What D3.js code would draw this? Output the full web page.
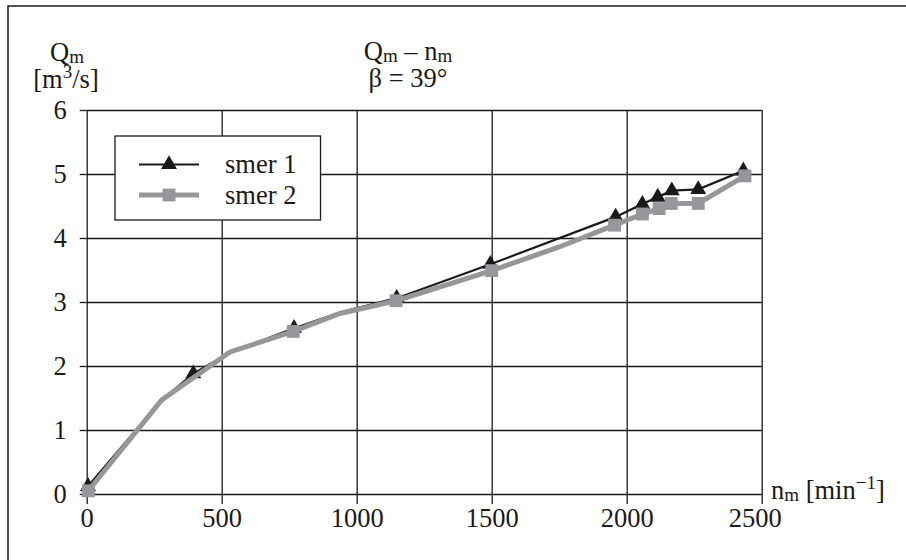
<!DOCTYPE html>
<html>
<head>
<meta charset="utf-8">
<script src="https://cdn.jsdelivr.net/npm/d3@7/dist/d3.min.js"></script>
<style>
  body { margin: 0; background: #fff; }
  text { font-family: "Liberation Serif", "Times New Roman", serif; fill: #1a1a1a; }
</style>
</head>
<body>
<div id="container"></div>
<script>
/* CONSTANTS */
const width = 906;
const height = 560;
const plot = { left: 86.7, right: 761.7, top: 110, bottom: 494 };
const fontSize = 26.5;
const subSize = 19;

/* DATA */
// smer 1 (triangles); points with mark 0 only bend the line
const nm1 = [5, 278, 395, 531, 768, 940, 1148, 1495, 1959, 2058, 2115, 2167, 2265, 2432];
const qm1 = [0.12, 1.47, 1.88, 2.21, 2.59, 2.84, 3.06, 3.59, 4.33, 4.53, 4.64, 4.74, 4.76, 5.05];
const mark1 = [1, 0, 1, 0, 1, 0, 1, 1, 1, 1, 1, 1, 1, 1];

// smer 2 (squares)
const nm2 = [6, 278, 531, 765, 938, 1146, 1500, 1750, 1955, 2058, 2120, 2165, 2265, 2438];
const qm2 = [0.05, 1.47, 2.22, 2.54, 2.82, 3.02, 3.49, 3.86, 4.20, 4.375, 4.46, 4.54, 4.54, 4.97];
const mark2 = [1, 0, 0, 1, 0, 1, 1, 0, 1, 1, 1, 1, 1, 1];

const xTicks = [0, 500, 1000, 1500, 2000, 2500];
const yTicks = [0, 1, 2, 3, 4, 5, 6];
const seriesNames = ["smer 1", "smer 2"];

const s1 = nm1.map((n, i) => ({ n, q: qm1[i], m: mark1[i] }));
const s2 = nm2.map((n, i) => ({ n, q: qm2[i], m: mark2[i] }));

/* SVG */
const svg = d3.select("#container").append("svg")
  .attr("width", width)
  .attr("height", height);

// outer frame (top and left edges)
svg.append("path")
  .attr("d", `M8,${height} L8,6 L${width},6`)
  .attr("fill", "none")
  .attr("stroke", "#1a1a1a")
  .attr("stroke-width", 1.5);

/* SCALES */
const xScale = d3.scaleLinear().domain([0, 2500]).range([plot.left, plot.right]);
const yScale = d3.scaleLinear().domain([0, 6]).range([plot.bottom, plot.top]);

/* GRID */
svg.append("g")
  .attr("transform", `translate(${plot.left},0)`)
  .call(d3.axisLeft(yScale).tickValues(yTicks).tickSize(-(plot.right - plot.left)).tickFormat(""))
  .call(g => g.select(".domain").remove())
  .selectAll("line").attr("stroke", "#1a1a1a").attr("stroke-width", 1.3);

svg.append("g")
  .attr("transform", `translate(0,${plot.bottom})`)
  .call(d3.axisBottom(xScale).tickValues(xTicks).tickSize(-(plot.bottom - plot.top)).tickFormat(""))
  .call(g => g.select(".domain").remove())
  .selectAll("line").attr("stroke", "#1a1a1a").attr("stroke-width", 1.3);

/* AXES */
const yAxis = svg.append("g")
  .attr("transform", `translate(${plot.left},0)`)
  .call(d3.axisLeft(yScale).tickValues(yTicks).tickSize(7).tickPadding(13).tickFormat(d3.format("d")));
yAxis.select(".domain").remove();
yAxis.selectAll("line").attr("stroke", "#1a1a1a").attr("stroke-width", 1.3);
yAxis.selectAll("text")
  .attr("font-family", "Liberation Serif")
  .attr("font-size", fontSize)
  .attr("fill", "#1a1a1a");

const xAxis = svg.append("g")
  .attr("transform", `translate(0,${plot.bottom})`)
  .call(d3.axisBottom(xScale).tickValues(xTicks).tickSize(10).tickPadding(4).tickFormat(d3.format("d")));
xAxis.select(".domain").remove();
xAxis.selectAll("line").attr("stroke", "#1a1a1a").attr("stroke-width", 1.3);
xAxis.selectAll("text")
  .attr("font-family", "Liberation Serif")
  .attr("font-size", fontSize)
  .attr("fill", "#1a1a1a")
  .attr("dx", d => d === 2500 ? -7 : 0); // last label pulled in, as in the original

/* SERIES */
const line = d3.line().x(d => xScale(d.n)).y(d => yScale(d.q));
const triangle = d3.symbol().type(d3.symbolTriangle).size(110);
const square = d3.symbol().type(d3.symbolSquare).size(165);

svg.append("path")
  .datum(s1)
  .attr("d", line)
  .attr("fill", "none")
  .attr("stroke", "#1a1a1a")
  .attr("stroke-width", 2.2);

svg.selectAll(".tri")
  .data(s1.filter(d => d.m))
  .join("path")
  .attr("class", "tri")
  .attr("transform", d => `translate(${xScale(d.n)},${yScale(d.q)})`)
  .attr("d", triangle)
  .attr("fill", "#1a1a1a");

svg.append("path")
  .datum(s2)
  .attr("d", line)
  .attr("fill", "none")
  .attr("stroke", "#97979b")
  .attr("stroke-width", 5);

svg.selectAll(".sq")
  .data(s2.filter(d => d.m))
  .join("path")
  .attr("class", "sq")
  .attr("transform", d => `translate(${xScale(d.n)},${yScale(d.q)})`)
  .attr("d", square)
  .attr("fill", "#97979b");

/* LEGEND */
const legend = svg.append("g");
legend.append("rect")
  .attr("x", 115).attr("y", 136)
  .attr("width", 205.5).attr("height", 84)
  .attr("fill", "#fff")
  .attr("stroke", "#1a1a1a")
  .attr("stroke-width", 1.3);

const legendRows = [
  { y: 164.5, color: "#1a1a1a", sw: 2.2, sym: triangle },
  { y: 195, color: "#97979b", sw: 5, sym: square }
];
legendRows.forEach((r, i) => {
  legend.append("line")
    .attr("x1", 139).attr("x2", 199)
    .attr("y1", r.y).attr("y2", r.y)
    .attr("stroke", r.color).attr("stroke-width", r.sw);
  legend.append("path")
    .attr("transform", `translate(169,${r.y})`)
    .attr("d", r.sym)
    .attr("fill", r.color);
  legend.append("text")
    .attr("x", 225).attr("y", r.y + 8.5)
    .attr("font-size", fontSize)
    .text(seriesNames[i]);
});

/* LABELS */
const yLabel = svg.append("text")
  .attr("x", 67).attr("y", 61)
  .attr("text-anchor", "middle")
  .attr("font-size", fontSize);
yLabel.append("tspan").text("Q");
yLabel.append("tspan").attr("font-size", subSize).attr("dy", 2).text("m");

const yUnit = svg.append("text")
  .attr("x", 66).attr("y", 88)
  .attr("text-anchor", "middle")
  .attr("font-size", fontSize);
yUnit.append("tspan").text("[m");
yUnit.append("tspan").attr("font-size", subSize).attr("dy", -10).text("3");
yUnit.append("tspan").attr("dy", 10).text("/s]");

const title = svg.append("text")
  .attr("x", 408).attr("y", 60)
  .attr("text-anchor", "middle")
  .attr("font-size", fontSize);
title.append("tspan").text("Q");
title.append("tspan").attr("font-size", subSize).attr("dy", 2).text("m");
title.append("tspan").attr("dy", -2).text(" – n");
title.append("tspan").attr("font-size", subSize).attr("dy", 2).text("m");

svg.append("text")
  .attr("x", 408).attr("y", 87)
  .attr("text-anchor", "middle")
  .attr("font-size", fontSize)
  .text("β = 39°");

const xLabel = svg.append("text")
  .attr("x", 771).attr("y", 499)
  .attr("font-size", fontSize);
xLabel.append("tspan").text("n");
xLabel.append("tspan").attr("font-size", subSize).attr("dy", 2).text("m");
xLabel.append("tspan").attr("dy", -2).text(" [min");
xLabel.append("tspan").attr("font-size", subSize).attr("dy", -10).text("−1");
xLabel.append("tspan").attr("dy", 10).text("]");
</script>
</body>
</html>
